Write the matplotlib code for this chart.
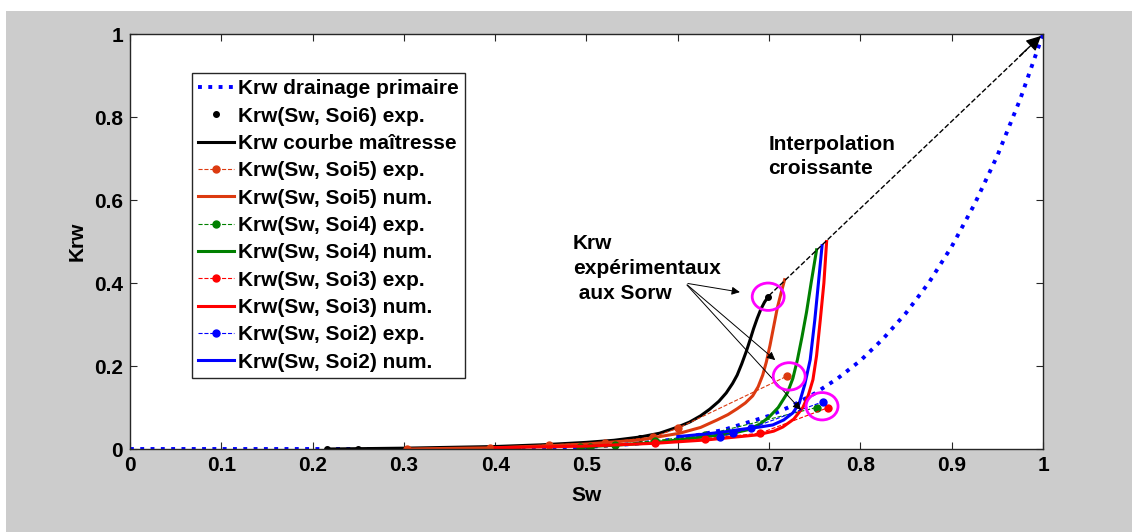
import numpy as np
import matplotlib
matplotlib.use("Agg")
from matplotlib import pyplot as plt
from matplotlib.patches import Ellipse, Rectangle

plt.rcParams['font.family'] = ['Liberation Sans', 'DejaVu Sans']
plt.rcParams['font.weight'] = 'bold'
plt.rcParams['axes.labelweight'] = 'bold'

# primary drainage curve
sw_drain = [0, 0.1, 0.2, 0.3, 0.4, 0.5, 0.55, 0.6, 0.65, 0.7, 0.725, 0.75, 0.775,
            0.8, 0.825, 0.85, 0.875, 0.9, 0.925, 0.95, 0.975, 1.0]
krw_drain = [0, 0, 0, 0.0, 0.0006, 0.005, 0.012, 0.024, 0.046, 0.080, 0.104, 0.134,
             0.170, 0.213, 0.266, 0.328, 0.401, 0.488, 0.590, 0.707, 0.843, 1.0]

# Soi6 exp + master curve
sw_exp6 = [0.216, 0.25, 0.346, 0.424, 0.559, 0.699]
krw_exp6 = [0.0, 0.0, 0.001, 0.003, 0.027, 0.367]
sw_master = [0.216, 0.30, 0.40, 0.45, 0.50, 0.53, 0.559, 0.58, 0.60, 0.613, 0.625,
             0.635, 0.645, 0.653, 0.66, 0.665, 0.67, 0.675, 0.679, 0.683, 0.687,
             0.691, 0.695, 0.699]
krw_master = [0, 0.002, 0.006, 0.010, 0.016, 0.021, 0.029, 0.038, 0.053, 0.065, 0.080,
              0.096, 0.115, 0.135, 0.158, 0.178, 0.205, 0.235, 0.262, 0.29, 0.315,
              0.337, 0.354, 0.367]

# Soi5
sw_exp5 = [0.303, 0.394, 0.459, 0.52, 0.573, 0.60, 0.72]
krw_exp5 = [0.001, 0.002, 0.01, 0.015, 0.029, 0.05, 0.176]
sw_num5 = [0.303, 0.4, 0.46, 0.5, 0.559, 0.602, 0.625, 0.643, 0.655, 0.665, 0.674,
           0.682, 0.688, 0.693, 0.697, 0.701, 0.705, 0.709, 0.713, 0.717]
krw_num5 = [0.0, 0.003, 0.008, 0.012, 0.022, 0.038, 0.052, 0.07, 0.083, 0.097, 0.111,
            0.128, 0.15, 0.178, 0.21, 0.25, 0.295, 0.34, 0.375, 0.408]

# Soi4
sw_exp4 = [0.493, 0.504, 0.531, 0.575, 0.63, 0.752]
krw_exp4 = [0.005, 0.004, 0.01, 0.02, 0.034, 0.10]
sw_num4 = [0.493, 0.53, 0.573, 0.632, 0.66, 0.676, 0.69, 0.70, 0.71, 0.72, 0.726,
           0.731, 0.736, 0.741, 0.746, 0.752]
krw_num4 = [0.005, 0.009, 0.015, 0.03, 0.038, 0.046, 0.06, 0.077, 0.10, 0.135, 0.17,
            0.215, 0.27, 0.33, 0.40, 0.48]

# Soi3
sw_exp3 = [0.575, 0.63, 0.69, 0.765]
krw_exp3 = [0.015, 0.025, 0.038, 0.10]
sw_num3 = [0.40, 0.5, 0.577, 0.632, 0.687, 0.705, 0.715, 0.727, 0.737, 0.743, 0.748,
           0.752, 0.756, 0.760, 0.763]
krw_num3 = [0.003, 0.007, 0.014, 0.022, 0.034, 0.043, 0.053, 0.072, 0.10, 0.13, 0.167,
            0.225, 0.31, 0.40, 0.50]

# Soi2
sw_exp2 = [0.646, 0.66, 0.68, 0.759]
krw_exp2 = [0.029, 0.038, 0.05, 0.114]
sw_num2 = [0.60, 0.63, 0.65, 0.668, 0.69, 0.704, 0.716, 0.726, 0.733, 0.739, 0.745,
           0.75, 0.754, 0.758]
krw_num2 = [0.03, 0.036, 0.041, 0.047, 0.053, 0.058, 0.07, 0.087, 0.11, 0.155, 0.215,
            0.31, 0.40, 0.49]

# circled Sorw points
circ_sw = [0.699, 0.722, 0.758]
circ_krw = [0.367, 0.175, 0.103]

orange = '#DC3A10'
green = '#008000'
red = '#FF0000'
blue = '#0000FF'
fs = 15

fig = plt.figure(figsize=(11.32, 5.32), dpi=100)
fig.patch.set_facecolor('white')
fig.add_artist(Rectangle((6 / 1132, 0), 1, 521 / 532, transform=fig.transFigure,
                         facecolor='#CCCCCC', edgecolor='none', zorder=-10))
ax = fig.add_axes([0.1148, 0.156, 0.8066, 0.780])

ax.plot(sw_drain, krw_drain, ':', color=blue, lw=2.8, label='Krw drainage primaire')
ax.plot(sw_exp6, krw_exp6, '.', color='k', ms=8, label='Krw(Sw, Soi6) exp.')
ax.plot(sw_master, krw_master, '-', color='k', lw=2.2, label='Krw courbe maîtresse')
ax.plot(sw_exp5, krw_exp5, '--.', color=orange, lw=0.8, ms=10, label='Krw(Sw, Soi5) exp.')
ax.plot(sw_num5, krw_num5, '-', color=orange, lw=2.2, label='Krw(Sw, Soi5) num.')
ax.plot(sw_exp4, krw_exp4, '--.', color=green, lw=0.8, ms=10, label='Krw(Sw, Soi4) exp.')
ax.plot(sw_num4, krw_num4, '-', color=green, lw=2.2, label='Krw(Sw, Soi4) num.')
ax.plot(sw_exp3, krw_exp3, '--.', color=red, lw=0.8, ms=10, label='Krw(Sw, Soi3) exp.')
ax.plot(sw_num3, krw_num3, '-', color=red, lw=2.2, label='Krw(Sw, Soi3) num.')
ax.plot(sw_exp2, krw_exp2, '--.', color=blue, lw=0.8, ms=10, label='Krw(Sw, Soi2) exp.')
ax.plot(sw_num2, krw_num2, '-', color=blue, lw=2.2, label='Krw(Sw, Soi2) num.')

# increasing interpolation arrow
ax.plot([0.70, 0.982], [0.37, 0.962], '--', color='k', lw=1)
ax.annotate('', xy=(1.0, 1.0), xytext=(0.972, 0.942),
            arrowprops=dict(arrowstyle='-|>', color='k', lw=1, mutation_scale=22))
ax.text(0.699, 0.757, 'Interpolation\ncroissante', fontsize=fs, va='top', ha='left',
        linespacing=1.35)

# circles
for x, y in zip(circ_sw, circ_krw):
    ax.add_patch(Ellipse((x, y), 0.035, 0.066, fill=False, edgecolor='#FF00FF', lw=2, zorder=5))

ax.text(0.485, 0.518, 'Krw\nexpérimentaux\n aux Sorw', fontsize=fs, va='top', ha='left',
        linespacing=1.4)
for tx, ty in [(0.671, 0.377), (0.709, 0.21), (0.737, 0.089)]:
    ax.annotate('', xy=(tx, ty), xytext=(0.608, 0.40),
                arrowprops=dict(arrowstyle='-|>', color='k', lw=0.7, mutation_scale=12))

ax.set_xlim(0, 1)
ax.set_ylim(0, 1)
ax.set_xticks(np.arange(0, 1.01, 0.1))
ax.set_yticks(np.arange(0, 1.01, 0.2))
ax.set_xticklabels(['0', '0.1', '0.2', '0.3', '0.4', '0.5', '0.6', '0.7', '0.8', '0.9', '1'])
ax.set_yticklabels(['0', '0.2', '0.4', '0.6', '0.8', '1'])
ax.tick_params(direction='in', top=True, right=True, length=5, width=0.8,
               labelsize=fs, pad=5, color='#262626')
for s in ax.spines.values():
    s.set_color('#262626')
    s.set_linewidth(1)
ax.set_xlabel('Sw', fontsize=fs, labelpad=8)
ax.set_ylabel('Krw', fontsize=fs, labelpad=5)

leg = ax.legend(loc='upper left', bbox_to_anchor=(0.068, 0.906), borderaxespad=0,
                fontsize=fs, handlelength=1.7, handletextpad=0.2, labelspacing=0.40,
                fancybox=False, edgecolor='#262626', framealpha=1, borderpad=0.3)
leg.get_frame().set_linewidth(1)

fig.savefig('out.png', dpi=100)
